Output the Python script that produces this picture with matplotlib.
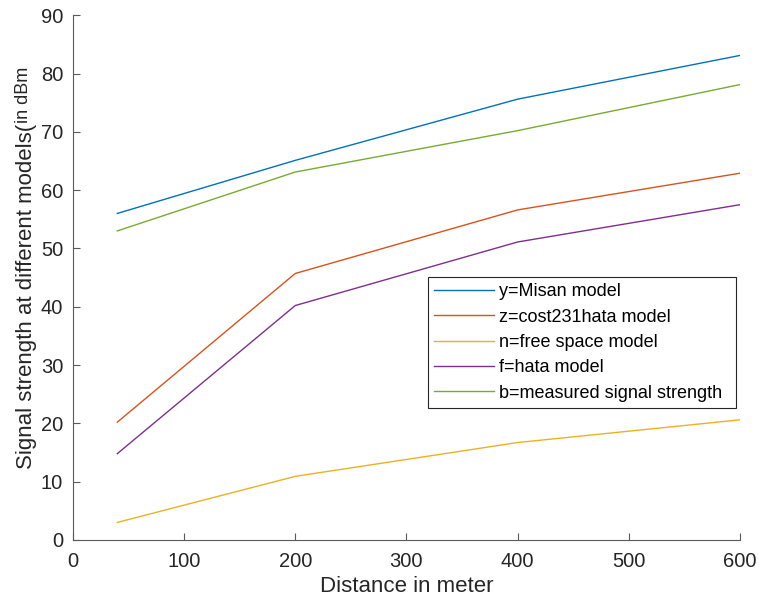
import matplotlib.pyplot as plt

# distance points (m)
distance = [40, 200, 400, 600]

# signal strength per model (dBm)
misan = [56.0, 65.1, 75.6, 83.1]
cost231hata = [20.2, 45.7, 56.6, 62.9]
free_space = [3.0, 10.9, 16.7, 20.6]
hata = [14.8, 40.2, 51.1, 57.5]
measured = [53.0, 63.1, 70.2, 78.1]

labels = ["y=Misan model", "z=cost231hata model", "n=free space model",
          "f=hata model", "b=measured signal strength"]
colors = ["#0072BD", "#D95319", "#EDB120", "#7E2F8E", "#77AC30"]

plt.rcParams['font.family'] = ['Liberation Sans', 'DejaVu Sans']

fig = plt.figure(figsize=(7.59, 6.08), dpi=100)
ax = fig.add_axes([0.096, 0.112, 0.879, 0.863])

series = [misan, cost231hata, free_space, hata, measured]
for vals, lab, col in zip(series, labels, colors):
    ax.plot(distance, vals, color=col, lw=1.0, label=lab)

ax.set_xlim(0, 600)
ax.set_ylim(0, 90)
ax.set_xticks(range(0, 601, 100))
ax.set_yticks(range(0, 91, 10))

for s in ["top", "right"]:
    ax.spines[s].set_visible(False)
for s in ["left", "bottom"]:
    ax.spines[s].set_color("#5a5a5a")
ax.tick_params(direction="in", length=5, colors="#5a5a5a", labelsize=14.5,
               labelcolor="#262626")
ax.tick_params(axis="x", pad=9)
ax.tick_params(axis="y", pad=7)

ax.set_xlabel("Distance in meter", fontsize=16, color="#262626", labelpad=3)
ylab = ax.set_ylabel("Signal strength at different models(", fontsize=16,
                     color="#262626")
ax.yaxis.set_label_coords(-0.054, 0.465)
# the "in dBm" part sits raised like a superscript in the original
ax.annotate("in dBm", xy=(1, 1), xycoords=ylab, xytext=(-3.5, 0),
            textcoords="offset points", rotation=90, ha="right", va="bottom",
            fontsize=13, color="#262626")

leg = ax.legend(loc="upper left", bbox_to_anchor=(0.532, 0.501, 0.462, 0),
                mode="expand", fontsize=13, fancybox=False,
                edgecolor="#262626", handlelength=3.3, borderaxespad=0,
                labelspacing=0.46, handletextpad=0.28, borderpad=0.35,
                framealpha=1)
leg.get_frame().set_linewidth(0.8)

plt.savefig("out.png", dpi=100)
